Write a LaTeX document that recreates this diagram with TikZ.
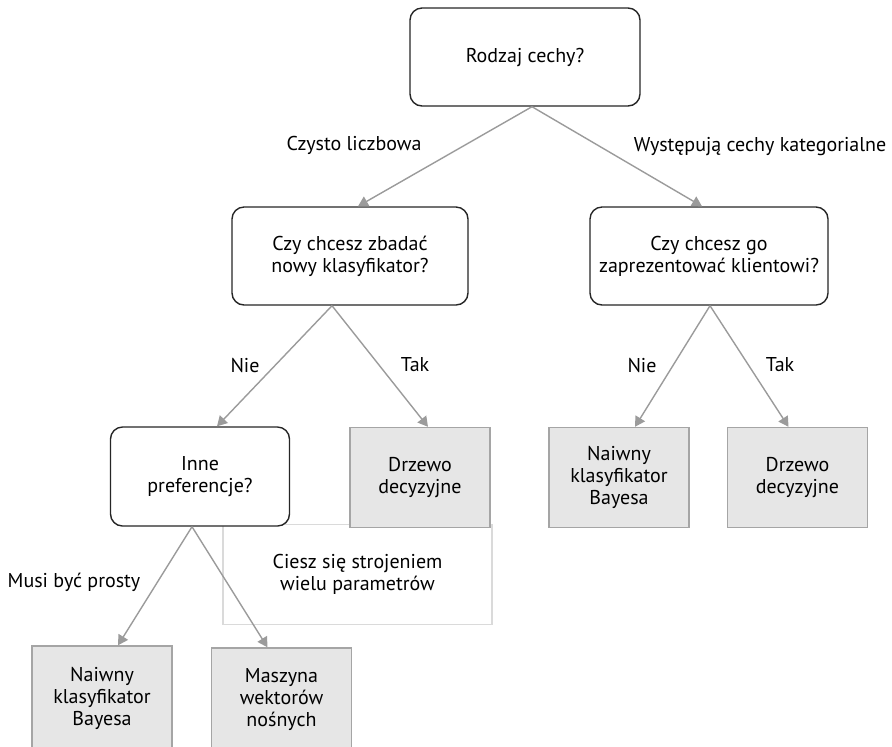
\documentclass[tikz,border=0pt]{standalone}
\usepackage{fontspec}
\setmainfont{PT Sans}
\usetikzlibrary{arrows.meta}
\definecolor{boxgray}{RGB}{230,230,230}
\definecolor{edgegray}{RGB}{165,165,165}
\definecolor{linegray}{RGB}{155,155,155}
\definecolor{framegray}{RGB}{218,218,218}
\newcommand{\chartfont}{\fontsize{10}{11}\selectfont}

\begin{document}
\begin{tikzpicture}[x=0.5pt,y=-0.5pt,
  question/.style={draw=black!85, line width=0.7pt, rounded corners=6pt, fill=white,
    align=center, minimum height=49pt, font=\chartfont},
  answer/.style={draw=edgegray, line width=0.7pt, fill=boxgray, align=center,
    minimum width=70pt, minimum height=50pt, font=\chartfont},
  branch/.style={font=\chartfont},
  link/.style={draw=linegray, line width=0.7pt, -{Triangle[length=5pt,width=5.5pt]}}]
\clip (0,0) rectangle (892,746);
% frame behind the boxes
\node[draw=framegray, line width=0.6pt, minimum width=134.5pt, minimum height=50pt,
  font=\chartfont, align=center] (tuning) at (357.5,574.5) {Ciesz się strojeniem\\wielu parametrów};
% questions
\node[question, minimum width=115pt] (root) at (525,57) {Rodzaj cechy?};
\node[question, minimum width=118pt] (explore) at (350,256) {Czy chcesz zbadać\\nowy klasyfikator?};
\node[question, minimum width=119pt] (client) at (709,256) {Czy chcesz go\\zaprezentować klientowi?};
\node[question, minimum width=89.5pt, minimum height=49.5pt] (prefs) at (200,476.5) {Inne\\preferencje?};
% answers
\node[answer] (treeA) at (420,477.5) {Drzewo\\decyzyjne};
\node[answer] (bayesA) at (619,477.5) {Naiwny\\klasyfikator\\Bayesa};
\node[answer] (treeB) at (797.5,477.5) {Drzewo\\decyzyjne};
\node[answer, minimum height=52pt] (bayesB) at (102,698) {Naiwny\\klasyfikator\\Bayesa};
\node[answer, minimum height=52pt] (svm) at (281.5,700) {Maszyna\\wektorów\\nośnych};
% branch labels
\node[branch] (numeric) at (354,145) {Czysto liczbowa};
\node[branch] (categ) at (760,147) {Występują cechy kategorialne};
\node[branch] (noA) at (245,365) {Nie};
\node[branch] (yesA) at (415,365) {Tak};
\node[branch] (noB) at (642,365) {Nie};
\node[branch] (yesB) at (780,365) {Tak};
\node[branch] (simple) at (74,582) {Musi być prosty};
% connectors
\draw[link] ([xshift=3.5pt]root.south) -- ([xshift=4pt]explore.north);
\draw[link] ([xshift=3.5pt]root.south) -- ([xshift=-3.5pt]client.north);
\draw[link] ([xshift=-9pt]explore.south) -- ([xshift=8.5pt]prefs.north);
\draw[link] ([xshift=-9pt]explore.south) -- ([xshift=4pt]treeA.north);
\draw[link] ([xshift=0.5pt]client.south) -- ([xshift=8pt]bayesA.north);
\draw[link] ([xshift=0.5pt]client.south) -- ([xshift=-4.5pt]treeB.north);
\draw[link] ([xshift=-4pt]prefs.south) -- ([xshift=8pt]bayesB.north);
\draw[link] ([xshift=-4pt]prefs.south) -- ([xshift=-7pt]svm.north);
\end{tikzpicture}
\end{document}
